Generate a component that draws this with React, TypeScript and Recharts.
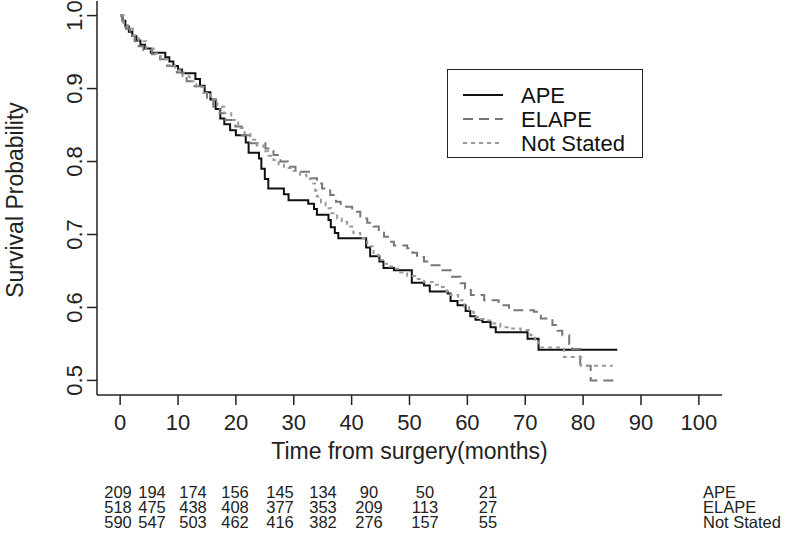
import { Legend, Line, LineChart, XAxis, YAxis } from 'recharts'

// Kaplan-Meier curves APE / ELAPE / Not Stated.

const FONT = '"Liberation Sans", Arial, Helvetica, sans-serif'

const apeTime = [0, 0.4, 0.9, 1.5, 2.1, 2.8, 3.5, 4.3, 5.3, 7.8, 8.5, 9.2, 10, 10.7, 13, 13.8, 14.6, 15.6, 16.5, 17.3, 18, 19, 20, 21.7, 22.2, 24, 24.4, 25, 25.6, 28.3, 29.1, 32.5, 33.5, 34, 36, 36.4, 37.1, 37.7, 42.5, 43.2, 44.8, 45.5, 47.3, 50.4, 52.5, 53.5, 56.6, 57.1, 58.3, 59.7, 60.5, 61.4, 62.6, 64, 64.9, 70.4, 72.3, 85.9]
const apeSurv = [1, 0.993, 0.985, 0.978, 0.972, 0.966, 0.96, 0.955, 0.949, 0.943, 0.937, 0.931, 0.926, 0.921, 0.913, 0.904, 0.895, 0.885, 0.872, 0.859, 0.851, 0.843, 0.836, 0.826, 0.812, 0.804, 0.79, 0.776, 0.763, 0.755, 0.747, 0.742, 0.735, 0.727, 0.72, 0.71, 0.702, 0.695, 0.682, 0.67, 0.663, 0.654, 0.651, 0.634, 0.63, 0.622, 0.619, 0.609, 0.603, 0.595, 0.588, 0.583, 0.58, 0.573, 0.566, 0.557, 0.542, 0.542]

const elapeTime = [0, 0.5, 1, 1.7, 2.5, 3.2, 4, 5.5, 6.9, 8.1, 9.8, 11, 11.5, 12.6, 14.1, 15, 16.1, 17.2, 18.2, 19.9, 21, 22.5, 25.1, 26.5, 27.7, 29, 30.3, 32.9, 34, 34.9, 36.3, 37.3, 38.1, 40.1, 41.5, 42.7, 43.8, 44.7, 45.6, 46.5, 47.3, 49.6, 50.5, 51.3, 52.5, 53.6, 55.7, 57.1, 58.8, 59.6, 60.6, 62.9, 65.4, 67.2, 71.5, 72.7, 74.7, 75.6, 76.4, 77.6, 78.1, 79.5, 81.3, 85.4]
const elapeSurv = [1, 0.99, 0.982, 0.972, 0.965, 0.958, 0.953, 0.947, 0.94, 0.931, 0.922, 0.914, 0.91, 0.903, 0.894, 0.885, 0.875, 0.866, 0.857, 0.848, 0.836, 0.825, 0.818, 0.809, 0.8, 0.793, 0.786, 0.777, 0.77, 0.763, 0.754, 0.745, 0.738, 0.731, 0.722, 0.716, 0.711, 0.704, 0.697, 0.69, 0.685, 0.681, 0.675, 0.669, 0.663, 0.658, 0.651, 0.642, 0.633, 0.626, 0.617, 0.61, 0.603, 0.596, 0.594, 0.585, 0.576, 0.568, 0.562, 0.55, 0.543, 0.52, 0.5, 0.5]

const nsTime = [0, 0.6, 1.3, 2.2, 3.2, 4.5, 5.8, 7, 8.2, 9.5, 10.8, 12, 13.2, 14.4, 15.6, 16.8, 18, 19.2, 20.4, 21.5, 22.5, 23.6, 24.8, 25.6, 26.5, 27.4, 28.3, 29.5, 31.1, 32.2, 33.2, 33.7, 34, 34.7, 35.5, 36.5, 37.5, 38.3, 39.2, 40.3, 41.5, 42.7, 43.8, 44.7, 45.6, 46.5, 47.3, 48.4, 49.6, 51, 52.5, 54, 55.6, 56.4, 57.1, 58.4, 59.5, 60.3, 61.1, 62.3, 63.4, 64.5, 65.7, 67.5, 69.2, 70.9, 71.7, 72.4, 76.7, 79.6, 85.1]
const nsSurv = [1, 0.99, 0.982, 0.973, 0.965, 0.955, 0.948, 0.94, 0.932, 0.925, 0.917, 0.91, 0.902, 0.894, 0.885, 0.875, 0.866, 0.857, 0.846, 0.838, 0.83, 0.822, 0.814, 0.808, 0.802, 0.796, 0.791, 0.787, 0.782, 0.776, 0.77, 0.76, 0.752, 0.744, 0.736, 0.729, 0.722, 0.717, 0.711, 0.702, 0.695, 0.684, 0.672, 0.665, 0.66, 0.656, 0.653, 0.648, 0.643, 0.639, 0.635, 0.631, 0.628, 0.622, 0.617, 0.61, 0.601, 0.594, 0.587, 0.584, 0.582, 0.578, 0.573, 0.571, 0.569, 0.562, 0.553, 0.545, 0.532, 0.52, 0.52]

const xTicks = [0, 10, 20, 30, 40, 50, 60, 70, 80, 90, 100]
const yTicks = [0.5, 0.6, 0.7, 0.8, 0.9, 1.0]

// numbers at risk
const riskGroups = ['APE', 'ELAPE', 'Not Stated']
const riskApe = [209, 194, 174, 156, 145, 134, 90, 50, 21]
const riskElape = [518, 475, 438, 408, 377, 353, 209, 113, 27]
const riskNotStated = [590, 547, 503, 462, 416, 382, 276, 157, 55]

// layout only: the risk table does not line up with the time axis in the original
const riskColX = [118, 152, 193, 235, 280, 323, 369, 425, 488]
const riskRowY = [498, 513, 528]

const toRows = (t: number[], s: number[]) => t.map((time, i) => ({ time, surv: s[i] }))

const series = [
  { name: 'APE', data: toRows(apeTime, apeSurv), stroke: '#111', dash: undefined as string | undefined },
  { name: 'ELAPE', data: toRows(elapeTime, elapeSurv), stroke: '#777', dash: '10 6' },
  { name: 'Not Stated', data: toRows(nsTime, nsSurv), stroke: '#999', dash: '4 4' },
]

function YTick(props: any) {
  const { x, y, payload } = props
  const bx = x - 3
  return (
    <text x={bx} y={y} transform={`rotate(-90, ${bx}, ${y})`} textAnchor="middle" fontSize={22} fontFamily={FONT} fill="#222">
      {Number(payload.value).toFixed(1)}
    </text>
  )
}

function KmLegend() {
  return (
    <div style={{ width: 196, height: 89, border: '1.5px solid #222', boxSizing: 'border-box', background: '#fff' }}>
      <svg width={193} height={86}>
        {series.map((s, i) => (
          <g key={s.name}>
            <line x1={15} x2={55} y1={25 + 24 * i} y2={25 + 24 * i} stroke={s.stroke} strokeWidth={2} strokeDasharray={s.dash} />
            <text x={73} y={33 + 24 * i} fontSize={22} fontFamily={FONT} fill="#111">{s.name}</text>
          </g>
        ))}
      </svg>
    </div>
  )
}

function RiskTable() {
  const rows = [riskApe, riskElape, riskNotStated]
  return (
    <svg width={800} height={533} style={{ position: 'absolute', left: 0, top: 0, pointerEvents: 'none' }}>
      {rows.map((row, r) => (
        <g key={riskGroups[r]} fontSize={16.5} fontFamily={FONT} fill="#222">
          {row.map((n, c) => (
            <text key={c} x={riskColX[c]} y={riskRowY[r]} textAnchor="middle">{n}</text>
          ))}
          <text x={703} y={riskRowY[r]}>{riskGroups[r]}</text>
        </g>
      ))}
    </svg>
  )
}

export default function App() {
  return (
    <div style={{ position: 'absolute', left: 0, top: 0, width: 800, height: 533, background: '#fff' }}>
      <LineChart width={800} height={533} margin={{ top: 1, right: 78, bottom: 78, left: 0 }}>
        <XAxis
          type="number"
          dataKey="time"
          domain={[-4, 104]}
          ticks={xTicks}
          allowDataOverflow
          height={60}
          tickSize={10}
          tickMargin={9}
          axisLine={{ stroke: '#222', strokeWidth: 1.5 }}
          tickLine={{ stroke: '#222', strokeWidth: 1.5 }}
          tick={{ fontSize: 22, fill: '#222', fontFamily: FONT }}
          label={() => (
            <text x={409.5} y={459} textAnchor="middle" fontSize={23} fontFamily={FONT} fill="#222">
              Time from surgery(months)
            </text>
          )}
        />
        <YAxis
          type="number"
          domain={[0.48, 1.02]}
          ticks={yTicks}
          allowDataOverflow
          width={97}
          tickSize={10}
          axisLine={{ stroke: '#222', strokeWidth: 1.5 }}
          tickLine={{ stroke: '#222', strokeWidth: 1.5 }}
          tick={YTick}
          label={() => (
            <text x={23} y={200} transform="rotate(-90, 23, 200)" textAnchor="middle" fontSize={23} fontFamily={FONT} fill="#222">
              Survival Probability
            </text>
          )}
        />
        {series.map((s) => (
          <Line
            key={s.name}
            data={s.data}
            dataKey="surv"
            name={s.name}
            type="stepAfter"
            stroke={s.stroke}
            strokeWidth={2}
            strokeDasharray={s.dash}
            dot={false}
            activeDot={false}
            isAnimationActive={false}
          />
        ))}
        <Legend layout="vertical" align="center" verticalAlign="middle" content={KmLegend} wrapperStyle={{ left: 447, top: 69, width: 196, height: 89 }} />
      </LineChart>
      <RiskTable />
    </div>
  )
}
